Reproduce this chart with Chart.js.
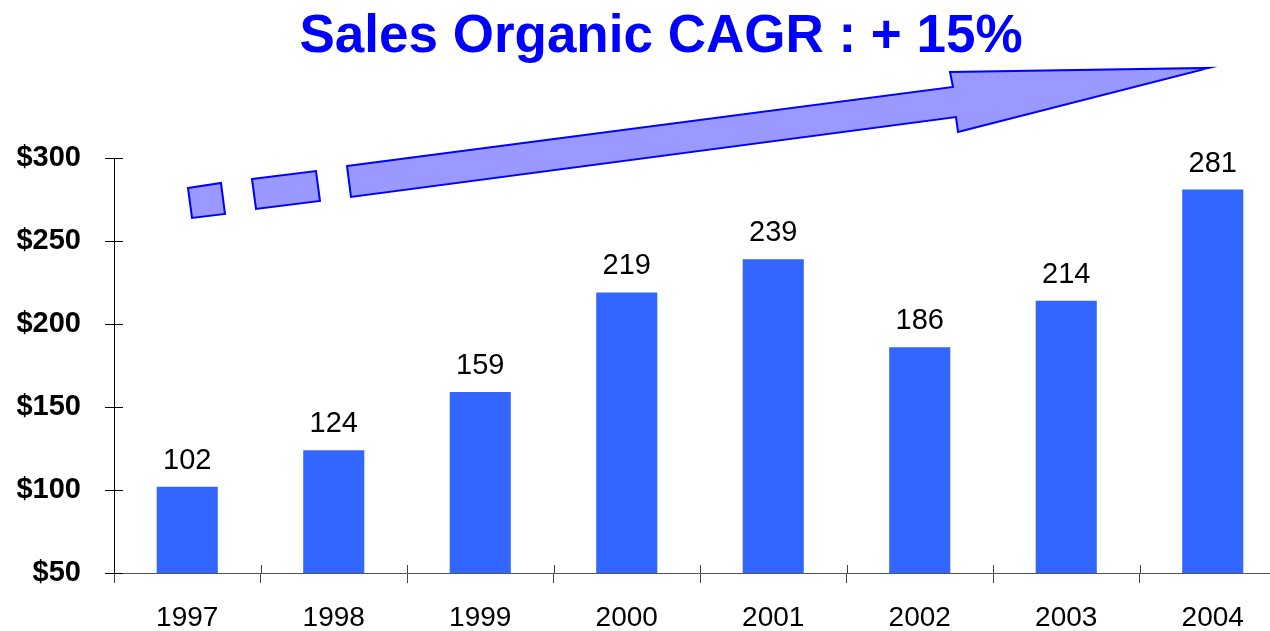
<!DOCTYPE html>
<html>
<head>
<meta charset="utf-8">
<title>Sales Organic CAGR</title>
<script src="https://cdn.jsdelivr.net/npm/chart.js@4.4.0/dist/chart.umd.min.js"></script>
<style>
html, body { margin: 0; padding: 0; background: #fff; overflow: hidden; }
#wrap { width: 1322px; height: 631px; }
</style>
</head>
<body>

<div id="wrap"><canvas id="canvas"></canvas></div>

<script>
var years = ['1997', '1998', '1999', '2000', '2001', '2002', '2003', '2004'];
var sales = [102, 124, 159, 219, 239, 186, 214, 281];
var yMin = 50;
var yMax = 300;
var yStep = 50;
var titleText = 'Sales Organic CAGR : + 15%';

var FONT = '"Liberation Sans", Arial, Helvetica, sans-serif';

// numbers above the bars
var valueLabels = {
	id: 'valueLabels',
	afterDatasetsDraw: function (chart) {
		var ctx = chart.ctx;
		var meta = chart.getDatasetMeta(0);
		ctx.save();
		ctx.font = '29px ' + FONT;
		ctx.fillStyle = '#000';
		ctx.textAlign = 'center';
		ctx.textBaseline = 'alphabetic';
		meta.data.forEach(function (bar, i) {
			ctx.fillText(String(sales[i]), bar.x, bar.y - 18);
		});
		ctx.restore();
	}
};

// tick marks crossing the axes (inner half)
var innerTicks = {
	id: 'innerTicks',
	afterDraw: function (chart) {
		var ctx = chart.ctx;
		var area = chart.chartArea;
		var x = chart.scales.x;
		var y = chart.scales.y;
		ctx.save();
		ctx.lineWidth = 1;
		ctx.strokeStyle = '#000';
		ctx.beginPath();
		y.ticks.forEach(function (t, i) {
			var py = Math.round(y.getPixelForTick(i)) + 0.5;
			ctx.moveTo(area.left, py);
			ctx.lineTo(area.left + 9, py);
		});
		ctx.stroke();
		ctx.strokeStyle = '#444';
		ctx.beginPath();
		var step = x.width / years.length;
		for (var i = 1; i < years.length; i++) {
			var px = Math.round(x.getPixelForValue(i) - step / 2) + 0.5;
			ctx.moveTo(px, area.bottom - 8);
			ctx.lineTo(px, area.bottom);
		}
		ctx.stroke();
		ctx.restore();
	}
};

// the dashed growth arrow under the title
var growthArrow = {
	id: 'growthArrow',
	afterDraw: function (chart) {
		var ctx = chart.ctx;
		var shapes = [
			[[188, 188], [221, 183], [225, 214], [192, 218]],
			[[252, 179], [316, 171], [320, 201], [256, 209]],
			[[347, 166], [953, 87], [950, 72], [1209, 68], [958, 132], [956, 117], [351, 197]]
		];
		ctx.save();
		ctx.fillStyle = '#9999FF';
		ctx.strokeStyle = '#0000FF';
		ctx.lineWidth = 2;
		ctx.lineJoin = 'miter';
		shapes.forEach(function (pts) {
			ctx.beginPath();
			ctx.moveTo(pts[0][0], pts[0][1]);
			for (var i = 1; i < pts.length; i++) ctx.lineTo(pts[i][0], pts[i][1]);
			ctx.closePath();
			ctx.fill();
			ctx.stroke();
		});
		ctx.restore();
	}
};

var chart = new Chart(document.getElementById('canvas'), {
	type: 'bar',
	data: {
		labels: years,
		datasets: [{
			data: sales,
			backgroundColor: '#3366FF',
			borderWidth: 0,
			categoryPercentage: 1,
			barPercentage: 0.417
		}]
	},
	options: {
		responsive: true,
		maintainAspectRatio: false,
		animation: false,
		devicePixelRatio: 1,
		layout: { padding: 0 },
		plugins: {
			legend: { display: false },
			tooltip: { enabled: false },
			title: {
				display: true,
				text: titleText,
				color: '#0000FF',
				font: { family: FONT, size: 53, weight: 'bold' },
				padding: { top: 6, bottom: 88.4 }
			}
		},
		scales: {
			x: {
				afterFit: function (s) { s.height = 58; },
				grid: { display: true, drawOnChartArea: false, drawTicks: true, tickLength: 10, color: '#444', offset: true },
				border: { display: true, color: '#555' },
				ticks: { color: '#000', padding: 18, font: { family: FONT, size: 28 } }
			},
			y: {
				min: yMin,
				max: yMax,
				afterFit: function (s) { s.width = 114; },
				grid: { display: true, drawOnChartArea: false, drawTicks: true, tickLength: 9, color: '#000' },
				border: { display: true, color: '#000' },
				ticks: {
					stepSize: yStep,
					color: '#000',
					padding: 24,
					font: { family: FONT, size: 29, weight: 'bold' },
					callback: function (v) { return '$' + v; }
				}
			},
			// empty right-hand axis, only keeps room past the cropped edge
			yRight: {
				position: 'right',
				min: yMin,
				max: yMax,
				afterFit: function (s) { s.width = 36; },
				grid: { display: false, drawTicks: false },
				border: { display: false },
				ticks: { display: false }
			}
		}
	},
	plugins: [valueLabels, innerTicks, growthArrow]
});
</script>

</body>
</html>
